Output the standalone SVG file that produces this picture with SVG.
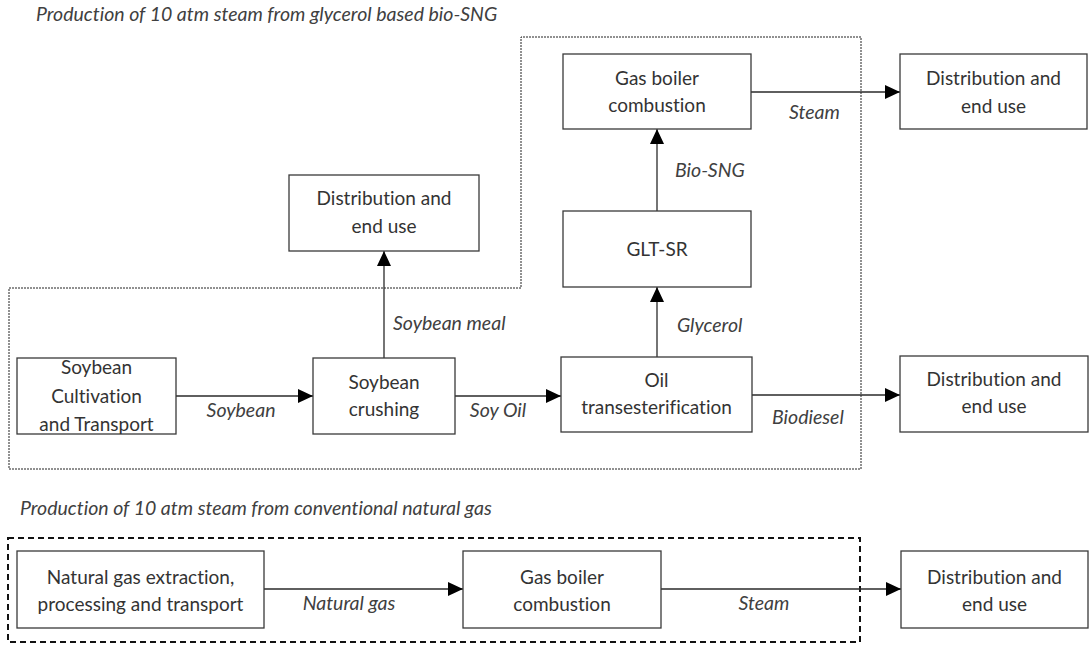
<svg xmlns="http://www.w3.org/2000/svg" width="1090" height="653" viewBox="0 0 1090 653">
  <style>
    text { font-variant-ligatures: none; }
    .box { fill: #ffffff; stroke: #3a3a3a; stroke-width: 1.3; }
    .t { font-family: Lato, "Liberation Sans", sans-serif; font-size: 19px; fill: #333333; text-anchor: middle; }
    .lbl { font-family: Lato, "Liberation Sans", sans-serif; font-size: 19.5px; font-style: italic; fill: #404040; }
    .title { font-family: Lato, "Liberation Sans", sans-serif; font-size: 19.5px; font-style: italic; fill: #404040; }
    .edge { fill: none; stroke: #2a2a2a; stroke-width: 1.3; marker-end: url(#arr); }
    .dotted { fill: none; stroke: #222; stroke-width: 1; stroke-dasharray: 2 1; }
    .dashed { fill: none; stroke: #111; stroke-width: 2; stroke-dasharray: 6 4; }
  </style>
  <defs>
    <marker id="arr" markerUnits="userSpaceOnUse" markerWidth="15" markerHeight="14" refX="15" refY="7" orient="auto">
      <path d="M0,0 L15,7 L0,14 z" fill="#000"/>
    </marker>
  </defs>
  <rect width="1090" height="653" fill="#ffffff"/>

  <!-- titles -->
  <text class="title" x="36" y="21">Production of 10 atm steam from glycerol based bio-SNG</text>
  <text class="title" x="20" y="515">Production of 10 atm steam from conventional natural gas</text>

  <!-- system boundaries -->
  <g id="boundaries">
    <path class="dotted" d="M9,288 H521 V37 H861 V469 H9 Z"/>
    <rect class="dashed" x="8" y="538" width="852" height="104"/>
  </g>

  <!-- connectors -->
  <g id="connectors">
    <line class="edge" x1="176" y1="396" x2="313" y2="396"/>
    <line class="edge" x1="455" y1="396" x2="561" y2="396"/>
    <line class="edge" x1="752" y1="395" x2="900" y2="395"/>
    <line class="edge" x1="384" y1="358" x2="384" y2="251"/>
    <line class="edge" x1="657" y1="357" x2="657" y2="287"/>
    <line class="edge" x1="657" y1="211" x2="657" y2="129"/>
    <line class="edge" x1="751" y1="92" x2="900" y2="92"/>
    <line class="edge" x1="264" y1="589" x2="463" y2="589"/>
    <line class="edge" x1="661" y1="589" x2="901" y2="589"/>
  </g>

  <!-- connector labels -->
  <g id="labels">
    <text class="lbl" x="241" y="417" text-anchor="middle">Soybean</text>
    <text class="lbl" x="498" y="417" text-anchor="middle">Soy Oil</text>
    <text class="lbl" x="393" y="330">Soybean meal</text>
    <text class="lbl" x="677" y="332">Glycerol</text>
    <text class="lbl" x="772" y="424">Biodiesel</text>
    <text class="lbl" x="675" y="177">Bio-SNG</text>
    <text class="lbl" x="789" y="119">Steam</text>
    <text class="lbl" x="349" y="610" text-anchor="middle">Natural gas</text>
    <text class="lbl" x="764" y="610" text-anchor="middle">Steam</text>
  </g>

  <!-- process nodes -->
  <g id="soy-cultivation">
    <rect class="box" x="17" y="358" width="159" height="76"/>
    <text class="t" x="96.5" y="374">Soybean</text>
    <text class="t" x="96.5" y="403">Cultivation</text>
    <text class="t" x="96.5" y="431">and Transport</text>
  </g>
  <g id="soy-crushing">
    <rect class="box" x="313" y="358" width="142" height="76"/>
    <text class="t" x="384" y="389">Soybean</text>
    <text class="t" x="384" y="416">crushing</text>
  </g>
  <g id="oil-transesterification">
    <rect class="box" x="561" y="357" width="191" height="75"/>
    <text class="t" x="656.5" y="387">Oil</text>
    <text class="t" x="656.5" y="414">transesterification</text>
  </g>
  <g id="glt-sr">
    <rect class="box" x="563" y="211" width="188" height="76"/>
    <text class="t" x="657" y="256">GLT-SR</text>
  </g>
  <g id="gas-boiler-bio">
    <rect class="box" x="563" y="54" width="188" height="75"/>
    <text class="t" x="657" y="85">Gas boiler</text>
    <text class="t" x="657" y="112">combustion</text>
  </g>
  <g id="dist-steam-bio">
    <rect class="box" x="900" y="54" width="187" height="75"/>
    <text class="t" x="993.5" y="85">Distribution and</text>
    <text class="t" x="993.5" y="113">end use</text>
  </g>
  <g id="dist-meal">
    <rect class="box" x="289" y="175" width="190" height="76"/>
    <text class="t" x="384" y="205">Distribution and</text>
    <text class="t" x="384" y="233">end use</text>
  </g>
  <g id="dist-biodiesel">
    <rect class="box" x="900" y="356" width="188" height="76"/>
    <text class="t" x="994" y="386">Distribution and</text>
    <text class="t" x="994" y="413">end use</text>
  </g>
  <g id="ng-extraction">
    <rect class="box" x="17" y="551" width="247" height="77"/>
    <text class="t" x="140.5" y="584">Natural gas extraction,</text>
    <text class="t" x="140.5" y="611">processing and transport</text>
  </g>
  <g id="gas-boiler-ng">
    <rect class="box" x="463" y="551" width="198" height="77"/>
    <text class="t" x="562" y="584">Gas boiler</text>
    <text class="t" x="562" y="611">combustion</text>
  </g>
  <g id="dist-steam-ng">
    <rect class="box" x="901" y="551" width="187" height="77"/>
    <text class="t" x="994.5" y="584">Distribution and</text>
    <text class="t" x="994.5" y="611">end use</text>
  </g>
</svg>
